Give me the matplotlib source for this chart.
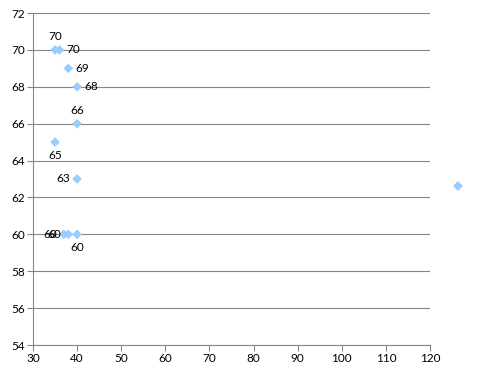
import matplotlib
matplotlib.use("Agg")
import matplotlib.pyplot as plt
from matplotlib.lines import Line2D

plt.rcParams['font.family'] = ['Lato', 'DejaVu Sans']

x_vals = [35, 36, 38, 40, 40, 35, 40, 37, 38, 40]
y_vals = [70, 70, 69, 68, 66, 65, 63, 60, 60, 60]
label_pos = ['above', 'right', 'right', 'right', 'above', 'below', 'left', 'left', 'left', 'below']
x_ticks = [30, 40, 50, 60, 70, 80, 90, 100, 110, 120]
y_ticks = [54, 56, 58, 60, 62, 64, 66, 68, 70, 72]

color = '#99CCFF'
grey = '#868686'

fig = plt.figure(figsize=(4.8, 3.75), dpi=100)
ax = fig.add_axes([33/480, 30/375, 397/480, 332/375])

ax.scatter(x_vals, y_vals, marker='D', s=24, color=color, edgecolors='none', zorder=3)

offsets = {'above': (0, 5.5, 'center', 'bottom'),
           'below': (0, -5.5, 'center', 'top'),
           'left': (-5, 0, 'right', 'center'),
           'right': (5, 0, 'left', 'center')}
for xv, yv, p in zip(x_vals, y_vals, label_pos):
    dx, dy, ha, va = offsets[p]
    ax.annotate(str(yv), (xv, yv), xytext=(dx, dy), textcoords='offset points',
                ha=ha, va=va, fontsize=8.5, color='black', zorder=4)

ax.set_xlim(30, 120)
ax.set_ylim(54, 72)
ax.set_xticks(x_ticks)
ax.set_yticks(y_ticks)
ax.yaxis.grid(True, color=grey, linewidth=0.8)
ax.set_axisbelow(True)
for s in ['top', 'right']:
    ax.spines[s].set_visible(False)
for s in ['left', 'bottom']:
    ax.spines[s].set_color(grey)
    ax.spines[s].set_linewidth(0.8)
ax.tick_params(axis='both', colors=grey, labelcolor='black', labelsize=8.5,
               length=4, width=0.8, direction='out', pad=2)

h = Line2D([], [], marker='D', color=color, linestyle='none', markersize=5,
           markeredgewidth=0)
fig.legend(handles=[h], labels=[' '], loc='center', bbox_to_anchor=(460/480, 1 - 187/375),
           frameon=False, handlelength=1, handletextpad=0, borderpad=0)

fig.savefig('out.png', dpi=100)
